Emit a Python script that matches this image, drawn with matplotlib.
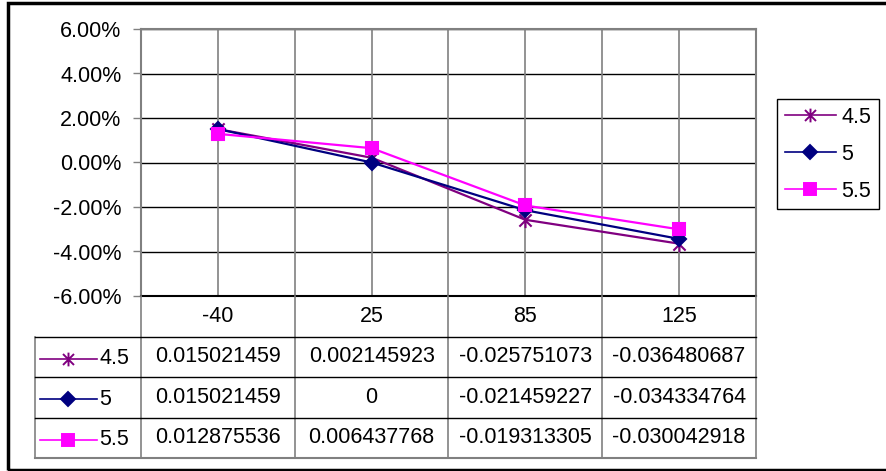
import numpy as np
import matplotlib
matplotlib.use("Agg")
import matplotlib.pyplot as plt
from matplotlib.ticker import PercentFormatter
from matplotlib.lines import Line2D
from matplotlib.patches import Rectangle
from matplotlib.path import Path

plt.rcParams['font.family'] = ['Liberation Sans', 'DejaVu Sans']
plt.rcParams['axes.unicode_minus'] = False

# 数据
categories = ['-40', '25', '85', '125']
series_names = ['4.5', '5', '5.5']
s45 = [0.015021459, 0.002145923, -0.025751073, -0.036480687]
s5 = [0.015021459, 0, -0.021459227, -0.034334764]
s55 = [0.012875536, 0.006437768, -0.019313305, -0.030042918]
cell_text = [['0.015021459', '0.002145923', '-0.025751073', '-0.036480687'],
             ['0.015021459', '0', '-0.021459227', '-0.034334764'],
             ['0.012875536', '0.006437768', '-0.019313305', '-0.030042918']]

# Excel 风格星号标记: 竖线 + 叉
star = Path([(0, -1), (0, 1), (-0.8, -0.8), (0.8, 0.8), (-0.8, 0.8), (0.8, -0.8)],
            [Path.MOVETO, Path.LINETO] * 3)

colors = ['#800080', '#000080', '#FF00FF']
markers = [star, 'D', 's']
msizes = [11, 7.5, 9]

W, H = 887, 471
fig = plt.figure(figsize=(W / 100, H / 100), dpi=100)
fs = 15.5


def rect(l, t, r, b):
    return [l / W, 1 - b / H, (r - l) / W, (b - t) / H]


# 主图
ax = fig.add_axes(rect(141, 29, 756, 296))
x = np.arange(len(categories))
for vals, c, m, ms, name in zip([s45, s5, s55], colors, markers, msizes, series_names):
    ax.plot(x, vals, color=c, marker=m, markersize=ms, lw=1.6,
            mec=c, mfc=c, mew=1.5, label=name, zorder=3)

ax.set_xlim(-0.5, len(categories) - 0.5)
ax.set_ylim(-0.06, 0.06)
ax.set_yticks(np.arange(-0.06, 0.061, 0.02))
ax.yaxis.set_major_formatter(PercentFormatter(1.0, decimals=2))
ax.set_xticks([])
ax.tick_params(axis='y', length=6, width=1, pad=8, labelsize=fs, color='#808080')
for yv in np.arange(-0.04, 0.061, 0.02):
    ax.axhline(yv, color='black', lw=1, zorder=1)
for xv in np.arange(-0.5, len(categories), 0.5):
    ax.axvline(xv, color='#808080', lw=1.2, zorder=1)
for sp in ax.spines.values():
    sp.set_color('#808080')
    sp.set_linewidth(1.5)
ax.spines['bottom'].set_color('black')

# 数据表
ax_t = fig.add_axes(rect(35, 296, 756, 458))
x0 = -0.5 - (141 - 35) / 153.75
ax_t.set_xlim(x0, len(categories) - 0.5)
ax_t.set_ylim(4, 0)
ax_t.axis('off')
for xv in np.arange(-0.5, len(categories), 1.0):
    ax_t.plot([xv, xv], [0, 4], color='#808080', lw=1.2, clip_on=False)
ax_t.plot([x0, x0], [1, 4], color='#808080', lw=1.2, clip_on=False)
for yv in [1, 2, 3]:
    ax_t.plot([x0, len(categories) - 0.5], [yv, yv], color='black', lw=1, clip_on=False)
ax_t.plot([x0, len(categories) - 0.5], [4, 4], color='#808080', lw=1.5, clip_on=False)
for i, cat in enumerate(categories):
    ax_t.text(i, 0.5, cat, ha='center', va='center', fontsize=fs)
for r, (name, c, m, ms) in enumerate(zip(series_names, colors, markers, msizes)):
    yv = r + 1.55
    ax_t.plot([-1.157, -0.786], [yv, yv], color=c, lw=1.2, clip_on=False)
    ax_t.plot([-0.975], [yv], marker=m, color=c, mfc=c, mec=c, markersize=ms * 0.9,
              mew=1.4, clip_on=False)
    ax_t.text(-0.77, yv, name, ha='left', va='center', fontsize=fs)
    for i, t in enumerate(cell_text[r]):
        ax_t.text(i, r + 1.5, t, ha='center', va='center', fontsize=fs)

# 图例
handles = [Line2D([], [], color=c, marker=m, markersize=ms * 0.9, mfc=c, mec=c, mew=1.4, lw=1.2)
           for c, m, ms in zip(colors, markers, msizes)]
leg = fig.legend(handles, series_names, loc='upper left',
                 bbox_to_anchor=(777 / W, 1 - 99 / H), fontsize=fs,
                 fancybox=False, edgecolor='black', framealpha=1,
                 handlelength=2.4, handletextpad=0.25, borderpad=0.35,
                 labelspacing=0.75, borderaxespad=0)
leg.get_frame().set_linewidth(1)

# 外框
fig.add_artist(Rectangle((8 / W, 1 - 470 / H), (W + 5 - 8) / W, (470 - 3) / H,
                         transform=fig.transFigure, fill=False, ec='black', lw=2.5,
                         clip_on=False))

fig.savefig('out.png', dpi=100)
